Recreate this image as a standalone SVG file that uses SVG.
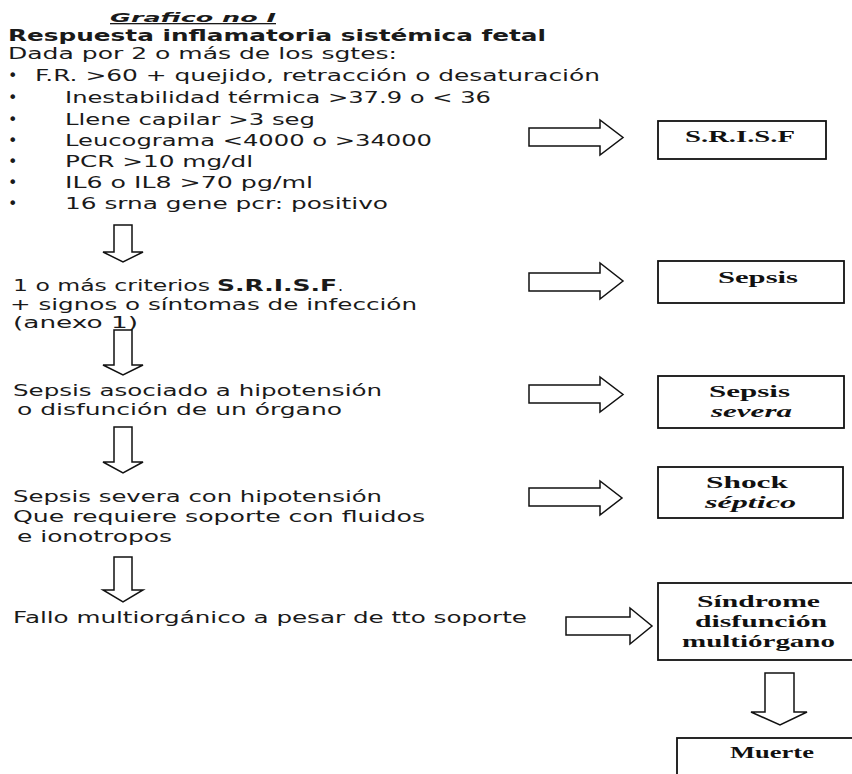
<svg xmlns="http://www.w3.org/2000/svg" width="852" height="774" viewBox="0 0 852 774">
<style>
.t{font-family:"DejaVu Sans","Verdana",sans-serif;font-size:16px;fill:#1a1a1a}
.b{font-weight:bold}
.ti{font-size:15px}
.h{font-family:"DejaVu Sans",sans-serif;font-size:13px;font-weight:bold;font-style:italic;fill:#1a1a1a;text-decoration:underline}
.s{font-family:"Liberation Serif","Times New Roman",serif;font-size:17px;font-weight:bold;fill:#111}
.i{font-style:italic}
.box{fill:#fff;stroke:#111;stroke-width:1.8}
.arr{fill:#fff;stroke:#111;stroke-width:1.5;stroke-linejoin:miter}
</style>
<rect width="852" height="774" fill="#fff"/>
<g id="criterios">
<text class="h" x="110" y="22" textLength="166" lengthAdjust="spacingAndGlyphs">Grafico no I</text>
<text class="t b ti" x="8" y="41" textLength="538" lengthAdjust="spacingAndGlyphs">Respuesta inflamatoria sistémica fetal</text>
<text class="t" x="8" y="59" textLength="389" lengthAdjust="spacingAndGlyphs">Dada por 2 o más de los sgtes:</text>
<text class="t" x="8" y="81">•</text>
<text class="t" x="35" y="81" textLength="565" lengthAdjust="spacingAndGlyphs">F.R. &gt;60 + quejido, retracción o desaturación</text>
<text class="t" x="8" y="103">•</text>
<text class="t" x="65" y="103" textLength="426" lengthAdjust="spacingAndGlyphs">Inestabilidad térmica &gt;37.9 o &lt; 36</text>
<text class="t" x="8" y="125">•</text>
<text class="t" x="65" y="125" textLength="250" lengthAdjust="spacingAndGlyphs">Llene capilar &gt;3 seg</text>
<text class="t" x="8" y="146">•</text>
<text class="t" x="65" y="146" textLength="367" lengthAdjust="spacingAndGlyphs">Leucograma &lt;4000 o &gt;34000</text>
<text class="t" x="8" y="167">•</text>
<text class="t" x="65" y="167" textLength="188" lengthAdjust="spacingAndGlyphs">PCR &gt;10 mg/dl</text>
<text class="t" x="8" y="188">•</text>
<text class="t" x="65" y="188" textLength="248" lengthAdjust="spacingAndGlyphs">IL6 o IL8 &gt;70 pg/ml</text>
<text class="t" x="8" y="209">•</text>
<text class="t" x="65" y="209" textLength="323" lengthAdjust="spacingAndGlyphs">16 srna gene pcr: positivo</text>
</g>
<g id="infeccion">
<text class="t" x="13" y="291" textLength="197" lengthAdjust="spacingAndGlyphs">1 o más criterios</text>
<text class="t b" x="217" y="291" textLength="120" lengthAdjust="spacingAndGlyphs">S.R.I.S.F</text>
<text class="t" x="338" y="291">.</text>
<text class="t" x="10" y="310" textLength="407" lengthAdjust="spacingAndGlyphs">+ signos o síntomas de infección</text>
<text class="t" x="13" y="328" textLength="125" lengthAdjust="spacingAndGlyphs">(anexo 1)</text>
</g>
<g id="hipotension">
<text class="t" x="13" y="396" textLength="369" lengthAdjust="spacingAndGlyphs">Sepsis asociado a hipotensión</text>
<text class="t" x="17" y="415" textLength="325" lengthAdjust="spacingAndGlyphs">o disfunción de un órgano</text>
</g>
<g id="soporte">
<text class="t" x="13" y="502" textLength="369" lengthAdjust="spacingAndGlyphs">Sepsis severa con hipotensión</text>
<text class="t" x="13" y="522" textLength="412" lengthAdjust="spacingAndGlyphs">Que requiere soporte con  fluidos</text>
<text class="t" x="17" y="542" textLength="155" lengthAdjust="spacingAndGlyphs">e ionotropos</text>
</g>
<g id="fallo">
<text class="t" x="13" y="623" textLength="514" lengthAdjust="spacingAndGlyphs">Fallo multiorgánico a pesar de tto soporte</text>
</g>
<g id="srisf">
<rect class="box" x="658" y="121" width="168" height="38"/>
<text class="s" x="685" y="142" textLength="110" lengthAdjust="spacingAndGlyphs">S.R.I.S.F</text>
</g>
<g id="sepsis">
<rect class="box" x="658" y="261" width="186" height="42"/>
<text class="s" x="718" y="283" textLength="80" lengthAdjust="spacingAndGlyphs">Sepsis</text>
</g>
<g id="sepsis-severa">
<rect class="box" x="658" y="376" width="186" height="52"/>
<text class="s" x="709" y="397" textLength="81" lengthAdjust="spacingAndGlyphs">Sepsis</text>
<text class="s i" x="711" y="417" textLength="81" lengthAdjust="spacingAndGlyphs">severa</text>
</g>
<g id="shock">
<rect class="box" x="658" y="467" width="185" height="51"/>
<text class="s" x="706" y="488" textLength="82" lengthAdjust="spacingAndGlyphs">Shock</text>
<text class="s i" x="705" y="508" textLength="91" lengthAdjust="spacingAndGlyphs">séptico</text>
</g>
<g id="sindrome">
<rect class="box" x="658" y="583" width="200" height="77"/>
<text class="s" x="697" y="607" textLength="123" lengthAdjust="spacingAndGlyphs">Síndrome</text>
<text class="s" x="695" y="627" textLength="132" lengthAdjust="spacingAndGlyphs">disfunción</text>
<text class="s" x="682" y="647" textLength="153" lengthAdjust="spacingAndGlyphs">multiórgano</text>
</g>
<g id="muerte">
<rect class="box" x="677" y="738" width="190" height="50"/>
<text class="s" x="730" y="758" textLength="84" lengthAdjust="spacingAndGlyphs">Muerte</text>
</g>
<g id="connectors">
<path class="arr" d="M529,128 H600 V120 L623,137.5 L600,155 V146 H529 Z"/>
<path class="arr" d="M529,273 H600 V263 L623,281 L600,299 V291 H529 Z"/>
<path class="arr" d="M529,385 H600 V377 L623,394.5 L600,412 V403 H529 Z"/>
<path class="arr" d="M529,488 H600 V481 L622,498 L600,515 V506 H529 Z"/>
<path class="arr" d="M566,617 H630 V608 L652,626 L630,644 V635 H566 Z"/>
<path class="arr" d="M114,225 V252 H103 L123,262 L143,252 H132 V225 Z"/>
<path class="arr" d="M114,330 V365 H103 L123,375 L143,365 H132 V330 Z"/>
<path class="arr" d="M114,427 V462 H103 L123,473 L143,462 H132 V427 Z"/>
<path class="arr" d="M114,557 V590 H103 L123,602 L143,590 H132 V557 Z"/>
<path class="arr" d="M765,673 V712 H751 L780,725 L807,712 H794 V673 Z"/>
</g>
</svg>
